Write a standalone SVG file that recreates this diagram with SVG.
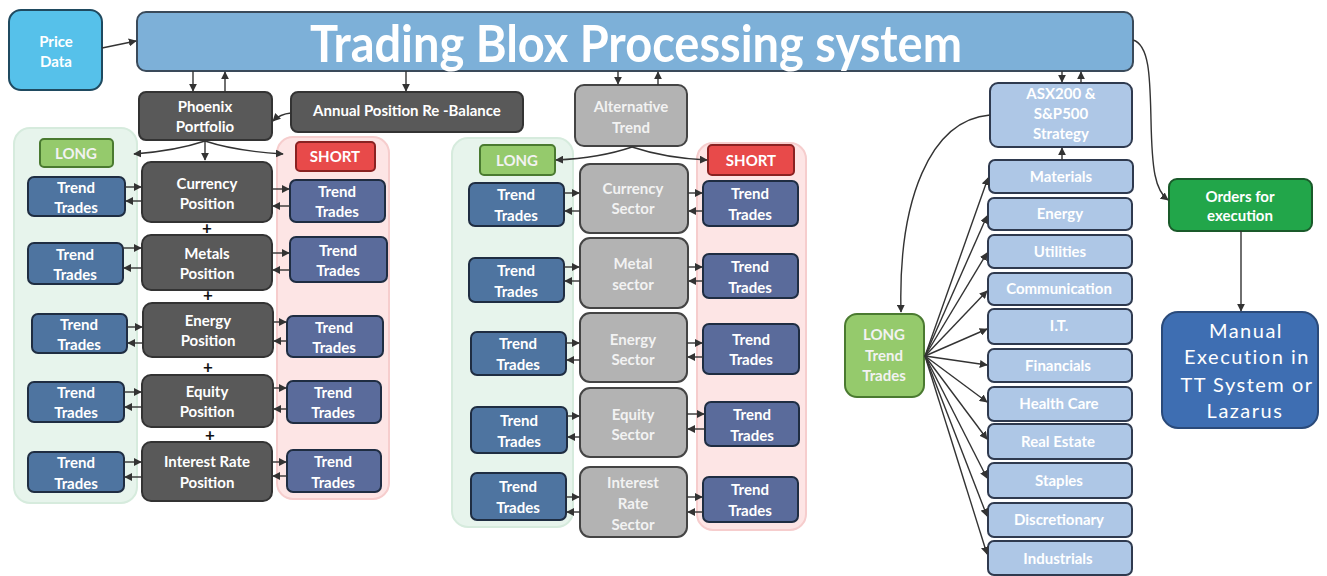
<svg xmlns="http://www.w3.org/2000/svg" width="1327" height="576" viewBox="0 0 1327 576">
<defs>
<marker id="ah" viewBox="0 0 10 10" refX="9" refY="5" markerWidth="8" markerHeight="8" markerUnits="userSpaceOnUse" orient="auto"><path d="M0,0 L10,5 L0,10 z" fill="#333"/></marker>
<style>
text{font-family:Lato,"Open Sans","Liberation Sans",sans-serif;font-weight:bold;text-anchor:middle;fill:#fff;font-size:15px}
.dark{fill:#595959;stroke:#333;stroke-width:2}
.lgray{fill:#b3b3b3;stroke:#444;stroke-width:2}
.ttl{fill:#4e74a0;stroke:#1f2d42;stroke-width:2}
.tts{fill:#5a6b9b;stroke:#1f2d42;stroke-width:2}
.sec{fill:#aec7e6;stroke:#2f3a4f;stroke-width:2}
.gp{fill:#e7f4ec;stroke:#d6ebdd;stroke-width:2}
.rp{fill:#fde5e5;stroke:#f6cdcd;stroke-width:2}
.lg{fill:#95ca6c;stroke:#4a7a30;stroke-width:2}
.sh{fill:#e84a4a;stroke:#8a2222;stroke-width:2}
.c{fill:none;stroke:#333;stroke-width:1.4;marker-end:url(#ah)}
.ln{fill:none;stroke:#333;stroke-width:1.4}
.lt{fill:#f2f2f2}
.plus{fill:#111;font-size:17px}
</style>
</defs>

<!-- panels -->
<g id="panels">
<rect class="gp" x="14" y="128" width="123" height="375" rx="16"/>
<rect class="rp" x="277" y="137" width="112" height="362" rx="16"/>
<rect class="gp" x="452" y="138" width="121" height="389" rx="16"/>
<rect class="rp" x="697" y="143" width="109" height="387" rx="16"/>
</g>

<g id="price-data"><rect x="9" y="10" width="93" height="80" rx="12" fill="#56c1ea" stroke="#1f4a60" stroke-width="2"/><text x="56" y="47">Price</text><text x="56" y="67">Data</text></g>

<g id="main-bar"><rect x="137" y="12" width="996" height="59" rx="9" fill="#7db0d8" stroke="#3a4a5a" stroke-width="2"/><text x="636" y="62" font-size="51" textLength="652" lengthAdjust="spacingAndGlyphs" style="font-size:51px">Trading Blox Processing system</text></g>

<g id="phoenix"><rect class="dark" x="139" y="92" width="133" height="48" rx="7"/><text x="205" y="112">Phoenix</text><text x="205" y="132">Portfolio</text></g>
<g id="annual"><rect class="dark" x="291" y="92" width="232" height="40" rx="7"/><text x="407" y="116">Annual Position Re -Balance</text></g>
<g id="alt-trend"><rect class="lgray" x="575" y="85" width="112" height="61" rx="9"/><text class="lt" x="631" y="112">Alternative</text><text class="lt" x="631" y="133">Trend</text></g>

<g id="long-left"><rect class="lg" x="40" y="139" width="73" height="28" rx="4"/><text class="lt" x="76" y="159">LONG</text></g>
<g id="short-left"><rect class="sh" x="296" y="142" width="79" height="29" rx="4"/><text x="335" y="162">SHORT</text></g>
<g id="long-mid"><rect class="lg" x="480" y="145" width="75" height="30" rx="4"/><text class="lt" x="517" y="166">LONG</text></g>
<g id="short-mid"><rect class="sh" x="708" y="145" width="86" height="30" rx="4"/><text x="751" y="166">SHORT</text></g>

<!-- left positions -->
<g id="currency-pos"><rect class="dark" x="142" y="162" width="130" height="60" rx="9"/><text x="207" y="189">Currency</text><text x="207" y="209">Position</text></g>
<g id="metals-pos"><rect class="dark" x="142" y="235" width="130" height="55" rx="9"/><text x="207" y="259">Metals</text><text x="207" y="279">Position</text></g>
<g id="energy-pos"><rect class="dark" x="143" y="303" width="130" height="54" rx="9"/><text x="208" y="326">Energy</text><text x="208" y="346">Position</text></g>
<g id="equity-pos"><rect class="dark" x="142" y="375" width="131" height="52" rx="9"/><text x="207" y="397">Equity</text><text x="207" y="417">Position</text></g>
<g id="interest-pos"><rect class="dark" x="142" y="442" width="130" height="59" rx="9"/><text x="207" y="467">Interest Rate</text><text x="207" y="488">Position</text></g>

<g id="plus-signs"><text class="plus" x="207" y="234">+</text><text class="plus" x="208" y="301">+</text><text class="plus" x="208" y="373">+</text><text class="plus" x="210" y="441">+</text></g>

<g id="ltt1"><rect class="ttl" x="28" y="177" width="97" height="39" rx="6"/><text x="76" y="193">Trend</text><text x="76" y="213">Trades</text></g>
<g id="ltt2"><rect class="ttl" x="28" y="243" width="95" height="41" rx="6"/><text x="75" y="260">Trend</text><text x="75" y="280">Trades</text></g>
<g id="ltt3"><rect class="ttl" x="32" y="314" width="95" height="39" rx="6"/><text x="79" y="330">Trend</text><text x="79" y="350">Trades</text></g>
<g id="ltt4"><rect class="ttl" x="28" y="382" width="96" height="40" rx="6"/><text x="76" y="398">Trend</text><text x="76" y="418">Trades</text></g>
<g id="ltt5"><rect class="ttl" x="28" y="452" width="96" height="40" rx="6"/><text x="76" y="468">Trend</text><text x="76" y="489">Trades</text></g>

<g id="stt1"><rect class="tts" x="290" y="180" width="95" height="42" rx="6"/><text x="337" y="197">Trend</text><text x="337" y="217">Trades</text></g>
<g id="stt2"><rect class="tts" x="290" y="237" width="97" height="45" rx="6"/><text x="338" y="256">Trend</text><text x="338" y="276">Trades</text></g>
<g id="stt3"><rect class="tts" x="287" y="316" width="96" height="41" rx="6"/><text x="334" y="333">Trend</text><text x="334" y="353">Trades</text></g>
<g id="stt4"><rect class="tts" x="287" y="381" width="94" height="42" rx="6"/><text x="333" y="398">Trend</text><text x="333" y="418">Trades</text></g>
<g id="stt5"><rect class="tts" x="287" y="450" width="94" height="42" rx="6"/><text x="333" y="467">Trend</text><text x="333" y="488">Trades</text></g>

<!-- middle sectors -->
<g id="currency-sec"><rect class="lgray" x="580" y="164" width="108" height="69" rx="10"/><text class="lt" x="633" y="194">Currency</text><text class="lt" x="633" y="214">Sector</text></g>
<g id="metal-sec"><rect class="lgray" x="580" y="238" width="108" height="70" rx="10"/><text class="lt" x="633" y="269">Metal</text><text class="lt" x="633" y="290">sector</text></g>
<g id="energy-sec"><rect class="lgray" x="580" y="313" width="107" height="69" rx="10"/><text class="lt" x="633" y="345">Energy</text><text class="lt" x="633" y="365">Sector</text></g>
<g id="equity-sec"><rect class="lgray" x="580" y="388" width="107" height="69" rx="10"/><text class="lt" x="633" y="420">Equity</text><text class="lt" x="633" y="440">Sector</text></g>
<g id="interest-sec"><rect class="lgray" x="580" y="467" width="107" height="70" rx="10"/><text class="lt" x="633" y="488">Interest</text><text class="lt" x="633" y="509">Rate</text><text class="lt" x="633" y="530">Sector</text></g>

<g id="mltt1"><rect class="ttl" x="469" y="183" width="95" height="43" rx="6"/><text x="516" y="200">Trend</text><text x="516" y="221">Trades</text></g>
<g id="mltt2"><rect class="ttl" x="469" y="258" width="95" height="44" rx="6"/><text x="516" y="276">Trend</text><text x="516" y="297">Trades</text></g>
<g id="mltt3"><rect class="ttl" x="471" y="332" width="95" height="43" rx="6"/><text x="518" y="349">Trend</text><text x="518" y="370">Trades</text></g>
<g id="mltt4"><rect class="ttl" x="471" y="407" width="96" height="46" rx="6"/><text x="519" y="426">Trend</text><text x="519" y="447">Trades</text></g>
<g id="mltt5"><rect class="ttl" x="471" y="473" width="95" height="47" rx="6"/><text x="518" y="492">Trend</text><text x="518" y="513">Trades</text></g>

<g id="mstt1"><rect class="tts" x="703" y="181" width="95" height="45" rx="6"/><text x="750" y="199">Trend</text><text x="750" y="220">Trades</text></g>
<g id="mstt2"><rect class="tts" x="703" y="254" width="95" height="44" rx="6"/><text x="750" y="272">Trend</text><text x="750" y="293">Trades</text></g>
<g id="mstt3"><rect class="tts" x="703" y="324" width="96" height="50" rx="6"/><text x="751" y="345">Trend</text><text x="751" y="365">Trades</text></g>
<g id="mstt4"><rect class="tts" x="705" y="402" width="94" height="44" rx="6"/><text x="752" y="420">Trend</text><text x="752" y="441">Trades</text></g>
<g id="mstt5"><rect class="tts" x="703" y="477" width="95" height="45" rx="6"/><text x="750" y="495">Trend</text><text x="750" y="516">Trades</text></g>

<!-- right -->
<g id="asx"><rect class="sec" x="990" y="83" width="142" height="64" rx="8"/><text x="1061" y="99">ASX200 &amp;</text><text x="1061" y="119">S&amp;P500</text><text x="1061" y="139">Strategy</text></g>
<g id="materials"><rect class="sec" x="989" y="160" width="144" height="33" rx="6"/><text x="1061" y="182">Materials</text></g>
<g id="energy"><rect class="sec" x="988" y="198" width="144" height="32" rx="6"/><text x="1060" y="219">Energy</text></g>
<g id="utilities"><rect class="sec" x="988" y="235" width="144" height="33" rx="6"/><text x="1060" y="257">Utilities</text></g>
<g id="communication"><rect class="sec" x="988" y="273" width="144" height="32" rx="6"/><text x="1059" y="294">Communication</text></g>
<g id="it"><rect class="sec" x="988" y="309" width="144" height="35" rx="6"/><text x="1059" y="331">I.T.</text></g>
<g id="financials"><rect class="sec" x="988" y="349" width="144" height="33" rx="6"/><text x="1058" y="371">Financials</text></g>
<g id="health"><rect class="sec" x="988" y="387" width="144" height="34" rx="6"/><text x="1059" y="409">Health Care</text></g>
<g id="realestate"><rect class="sec" x="988" y="424" width="144" height="35" rx="6"/><text x="1058" y="447">Real Estate</text></g>
<g id="staples"><rect class="sec" x="988" y="463" width="144" height="35" rx="6"/><text x="1059" y="486">Staples</text></g>
<g id="discretionary"><rect class="sec" x="988" y="503" width="144" height="34" rx="6"/><text x="1059" y="525">Discretionary</text></g>
<g id="industrials"><rect class="sec" x="988" y="541" width="144" height="34" rx="6"/><text x="1058" y="564">Industrials</text></g>

<g id="long-trend-trades"><rect class="lg" x="845" y="314" width="79" height="83" rx="12"/><text class="lt" x="884" y="340">LONG</text><text class="lt" x="884" y="361">Trend</text><text class="lt" x="884" y="381">Trades</text></g>
<g id="orders"><rect x="1169" y="179" width="143" height="52" rx="8" fill="#22a64a" stroke="#1a5a2a" stroke-width="2"/><text x="1240" y="202">Orders for</text><text x="1240" y="221">execution</text></g>
<g id="manual"><rect x="1162" y="312" width="156" height="116" rx="16" fill="#3e6eb2" stroke="#2a4a7a" stroke-width="2"/>
<g style="font-weight:normal;font-size:20px;letter-spacing:1.5px"><text x="1246" y="338" style="font-weight:normal;font-size:20px">Manual</text><text x="1247" y="364" style="font-weight:normal;font-size:20px">Execution in</text><text x="1247" y="392" style="font-weight:normal;font-size:20px">TT System or</text><text x="1245" y="418" style="font-weight:normal;font-size:20px">Lazarus</text></g></g>

<!-- connectors -->
<g id="connectors">
<path class="c" d="M102,48 L136,41"/>
<path class="c" d="M193,71 L193,91"/>
<path class="c" d="M225,92 L225,72"/>
<path class="c" d="M406,71 L406,91"/>
<path class="c" d="M291,113 Q280,114 273,121"/>
<path class="c" d="M618,71 L618,84"/>
<path class="c" d="M658,85 L658,72"/>
<path class="c" d="M1062,71 L1062,82"/>
<path class="c" d="M1081,83 L1081,72"/>
<path class="c" d="M1062,160 L1062,148"/>
<path class="c" d="M205,141 Q175,151 134,154"/>
<path class="c" d="M205,141 Q235,151 283,154"/>
<path class="c" d="M205,141 L205,160"/>
<path class="c" d="M632,147 Q600,158 556,160"/>
<path class="c" d="M632,147 Q665,158 707,160"/>
<path class="c" d="M1133,40 C1150,45 1150,80 1151,120 C1152,170 1155,190 1168,200"/>
<path class="c" d="M990,115 C930,120 898,200 901,312"/>
<path class="c" d="M1241,231 L1241,311"/>
<!-- left long -->
<path class="c" d="M125,187 L141,187"/><path class="c" d="M142,201 L126,201"/>
<path class="c" d="M123,248 L141,248"/><path class="c" d="M142,268 L124,268"/>
<path class="c" d="M127,327 L142,327"/><path class="c" d="M143,343 L128,343"/>
<path class="c" d="M124,392 L141,392"/><path class="c" d="M142,407 L125,407"/>
<path class="c" d="M124,462 L141,462"/><path class="c" d="M142,477 L125,477"/>
<!-- left short -->
<path class="c" d="M272,189 L289,189"/><path class="c" d="M290,206 L273,206"/>
<path class="c" d="M272,253 L289,253"/><path class="c" d="M290,270 L273,270"/>
<path class="c" d="M273,322 L286,322"/><path class="c" d="M287,341 L274,341"/>
<path class="c" d="M273,388 L286,388"/><path class="c" d="M287,409 L274,409"/>
<path class="c" d="M272,462 L286,462"/><path class="c" d="M287,476 L273,476"/>
<!-- mid long -->
<path class="c" d="M564,193 L579,193"/><path class="c" d="M580,211 L565,211"/>
<path class="c" d="M564,267 L579,267"/><path class="c" d="M580,281 L565,281"/>
<path class="c" d="M566,343 L579,343"/><path class="c" d="M580,360 L567,360"/>
<path class="c" d="M567,416 L579,416"/><path class="c" d="M580,437 L568,437"/>
<path class="c" d="M566,497 L579,497"/><path class="c" d="M580,512 L567,512"/>
<!-- mid short -->
<path class="c" d="M688,193 L702,193"/><path class="c" d="M703,211 L689,211"/>
<path class="c" d="M688,267 L702,267"/><path class="c" d="M703,281 L689,281"/>
<path class="c" d="M687,343 L702,343"/><path class="c" d="M703,357 L688,357"/>
<path class="c" d="M687,414 L704,414"/><path class="c" d="M705,429 L688,429"/>
<path class="c" d="M687,497 L702,497"/><path class="c" d="M703,512 L688,512"/>
<!-- fan -->
<path class="c" d="M925,356 L988,178"/>
<path class="c" d="M925,356 L987,216"/>
<path class="c" d="M925,356 L987,253"/>
<path class="c" d="M925,356 L987,291"/>
<path class="c" d="M925,356 L987,329"/>
<path class="c" d="M925,356 L987,365"/>
<path class="c" d="M925,356 L987,402"/>
<path class="c" d="M925,356 L987,439"/>
<path class="c" d="M925,356 L987,478"/>
<path class="c" d="M925,356 L987,516"/>
<path class="c" d="M925,356 L987,554"/>
</g>
</svg>
